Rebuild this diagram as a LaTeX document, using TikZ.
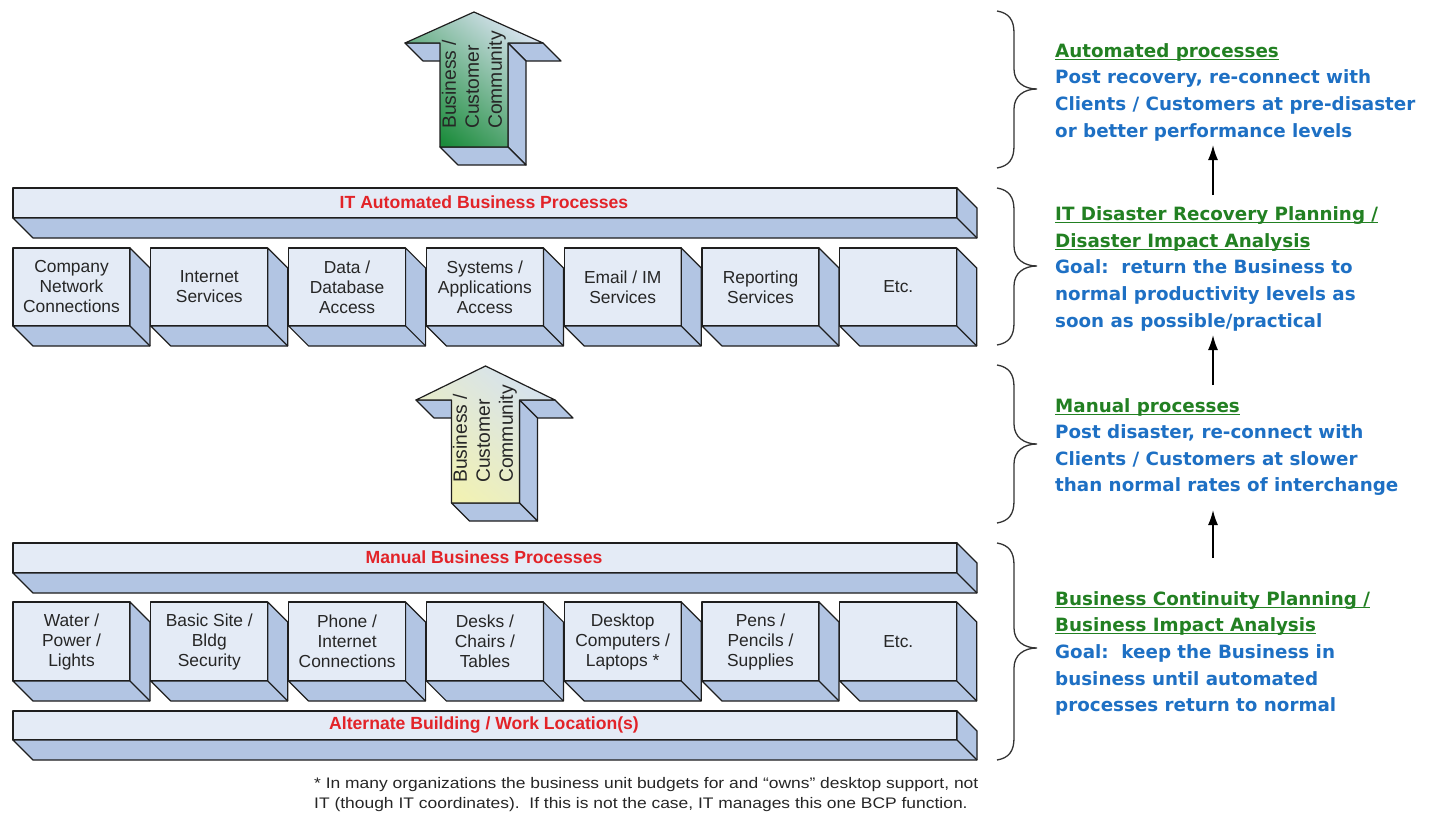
\documentclass[tikz,border=0pt]{standalone}
\usepackage{fontspec}
\setmainfont{Liberation Sans}
\newfontfamily\notefont{DejaVu Sans}
\newfontfamily\widefont{Liberation Sans}[FakeStretch=1.14]
\usetikzlibrary{calc,arrows.meta}

\definecolor{facecol}{RGB}{228,235,246}
\definecolor{sidecol}{RGB}{178,197,227}
\definecolor{edgecol}{RGB}{30,30,30}
\definecolor{labred}{RGB}{226,35,40}
\definecolor{headgreen}{RGB}{34,128,34}
\definecolor{bodyblue}{RGB}{30,112,196}
\definecolor{darkgreen}{RGB}{28,140,60}
\definecolor{paleblue}{RGB}{214,226,238}
\definecolor{paleyellow}{RGB}{242,242,178}

% underline that sits just under the baseline
\newsavebox\ulbox
\newcommand\hul[1]{\sbox\ulbox{#1}\rlap{\rule[-2.8pt]{\wd\ulbox}{1.3pt}}\usebox\ulbox}

% right and bottom faces of an extruded rectangle node
\newcommand\extrude[2]{%
  \draw[side] (#1.north east) -- ++(#2,#2) -- ($(#1.south east)+(#2,#2)$)
    -- ($(#1.south west)+(#2,#2)$) -- (#1.south west) -- (#1.south east) -- cycle;
  \draw[edge] (#1.south east) -- ++(#2,#2);}

% extruded block arrow pointing up:
% centre x, apex y, head base y, bottom y, half head width, half shaft width, shading colours
\newcommand\blockarrow[8]{%
  \pgfmathsetmacro\axl{#1-#5}\pgfmathsetmacro\axr{#1+#5}%
  \pgfmathsetmacro\asl{#1-#6}\pgfmathsetmacro\asr{#1+#6}%
  \draw[side] (\axl,#3) -- (\asl,#3) -- (\asl+18,#3+18) -- (\axl+18,#3+18) -- cycle;
  \draw[side] (\asr,#3) -- (\axr,#3) -- (\axr+18,#3+18) -- (\asr+18,#3+18) -- cycle;
  \draw[side] (\asr,#3) -- (\asr,#4) -- (\asr+18,#4+18) -- (\asr+18,#3+18) -- cycle;
  \draw[side] (\asl,#4) -- (\asr,#4) -- (\asr+18,#4+18) -- (\asl+18,#4+18) -- cycle;
  \path[edge, draw, top color=#7, bottom color=#8, shading angle=-40]
    (#1,#2) -- (\axr,#3) -- (\asr,#3) -- (\asr,#4) -- (\asl,#4) -- (\asl,#3) -- (\axl,#3) -- cycle;}

% curly bracket opening to the right: top y, middle y, bottom y
\newcommand\curly[3]{%
  \draw[bracket] (997,#1) .. controls (1009,#1+2) and (1014,#1+9) .. (1014,#1+22)
    -- (1014,#2-20) .. controls (1014,#2-7) and (1024,#2) .. (1037,#2)
    .. controls (1024,#2) and (1014,#2+7) .. (1014,#2+20)
    -- (1014,#3-22) .. controls (1014,#3-9) and (1009,#3-2) .. (997,#3);}

\tikzset{
  edge/.style={draw=edgecol, line width=1.2pt, line join=round},
  side/.style={edge, fill=sidecol},
  face/.style={edge, fill=facecol, inner sep=0pt, outer sep=0pt, align=center,
    text=black!85, font=\fontsize{17.4}{20}\selectfont},
  boxface/.style={face, minimum width=117pt},
  barface/.style={face, minimum width=944pt},
  barlabel/.style={text=labred, font=\fontsize{17.6}{20}\selectfont\bfseries, inner sep=0pt},
  arrowtext/.style={rotate=90, align=left, inner sep=0pt, text=black!85,
    font=\fontsize{19.3}{23}\selectfont},
  headline/.style={anchor=base west, inner sep=0pt, text=headgreen,
    font=\notefont\fontsize{18.3}{22}\selectfont\bfseries},
  bodyline/.style={anchor=base west, inner sep=0pt, text=bodyblue,
    font=\notefont\fontsize{18.3}{22}\selectfont\bfseries},
  bracket/.style={draw=black!80, line width=1.3pt},
  uparrow/.style={draw=black, line width=1.6pt, -{Latex[length=15pt,width=10pt]}},
  footnote/.style={anchor=base west, inner sep=0pt, text=black!85,
    font=\widefont\fontsize{15.3}{20}\selectfont},
}

\begin{document}
\begin{tikzpicture}[x=1pt,y=-1pt]
\fill[white] (0,0) rectangle (1434,819);
\useasboundingbox (0,0) rectangle (1434,819);

% ---------- upper section: automated processes ----------
\blockarrow{474}{12}{43}{147}{69}{34}{paleblue}{darkgreen}
\node[arrowtext] (topflow) at (474,80) {Business /\\Customer\\Community};

\node[barface, minimum height=30pt] (itbar) at (485,203) {};
\extrude{itbar}{20}
\node[barlabel] (itlabel) at (484,202) {IT Automated Business Processes};

\foreach \t [count=\i from 0] in {{Company\\Network\\Connections},{Internet\\Services},
    {Data /\\Database\\Access},{Systems /\\Applications\\Access},{Email / IM\\Services},
    {Reporting\\Services},{Etc.}} {
  \node[boxface, minimum height=78pt] (it\i) at ({71.5+137.8*\i},287) {\t};
  \extrude{it\i}{20}
}

% ---------- lower section: manual processes ----------
\blockarrow{485.5}{366}{400}{503}{69.5}{34}{paleblue}{paleyellow}
\node[arrowtext] (lowflow) at (485,434) {Business /\\Customer\\Community};

\node[barface, minimum height=30pt] (manbar) at (485,558) {};
\extrude{manbar}{20}
\node[barlabel] (manlabel) at (484,557) {Manual Business Processes};

\foreach \t [count=\i from 0] in {{Water /\\Power /\\Lights},{Basic Site /\\Bldg\\Security},
    {Phone /\\Internet\\Connections},{Desks /\\Chairs /\\Tables},
    {Desktop\\Computers /\\Laptops *},{Pens /\\Pencils /\\Supplies},{Etc.}} {
  \node[boxface, minimum height=79pt] (mn\i) at ({71.5+137.8*\i},641.5) {\t};
  \extrude{mn\i}{20}
}

\node[barface, minimum height=29pt] (altbar) at (485,725.5) {};
\extrude{altbar}{20}
\node[barlabel] (altlabel) at (484,725) {Alternate Building / Work Location(s)};

% ---------- footnote ----------
\node[footnote] (note1) at (314,788) {* In many organizations the business unit budgets for and “owns” desktop support, not};
\node[footnote] (note2) at (314,808) {IT (though IT coordinates).\ \ If this is not the case, IT manages this one BCP function.};

% ---------- brackets ----------
\curly{11}{89}{168}
\curly{188}{266}{345}
\curly{365}{444}{523}
\curly{543}{648}{760}

% ---------- planning notes ----------
\node[headline] (h1a) at (1055,57) {\hul{Automated processes}};
\node[bodyline] (b1a) at (1055,83.5) {Post recovery, re-connect with};
\node[bodyline] (b1b) at (1055,110) {Clients / Customers at pre-disaster};
\node[bodyline] (b1c) at (1055,137) {or better performance levels};

\node[headline] (h2a) at (1055,220) {\hul{IT Disaster Recovery Planning /}};
\node[headline] (h2b) at (1055,247) {\hul{Disaster Impact Analysis}};
\node[bodyline] (b2a) at (1055,273) {Goal:\ \ return the Business to};
\node[bodyline] (b2b) at (1055,300) {normal productivity levels as};
\node[bodyline] (b2c) at (1055,327) {soon as possible/practical};

\node[headline] (h3a) at (1055,412) {\hul{Manual processes}};
\node[bodyline] (b3a) at (1055,438) {Post disaster, re-connect with};
\node[bodyline] (b3b) at (1055,465) {Clients / Customers at slower};
\node[bodyline] (b3c) at (1055,491) {than normal rates of interchange};

\node[headline] (h4a) at (1055,605) {\hul{Business Continuity Planning /}};
\node[headline] (h4b) at (1055,631) {\hul{Business Impact Analysis}};
\node[bodyline] (b4a) at (1055,658) {Goal:\ \ keep the Business in};
\node[bodyline] (b4b) at (1055,685) {business until automated};
\node[bodyline] (b4c) at (1055,711) {processes return to normal};

% ---------- progression arrows ----------
\coordinate (s1) at (1213,195); \coordinate (e1) at (1213,145);
\coordinate (s2) at (1213,385); \coordinate (e2) at (1213,335);
\coordinate (s3) at (1213,558); \coordinate (e3) at (1213,510);
\draw[uparrow] (s1) -- (e1);
\draw[uparrow] (s2) -- (e2);
\draw[uparrow] (s3) -- (e3);
\end{tikzpicture}
\end{document}
